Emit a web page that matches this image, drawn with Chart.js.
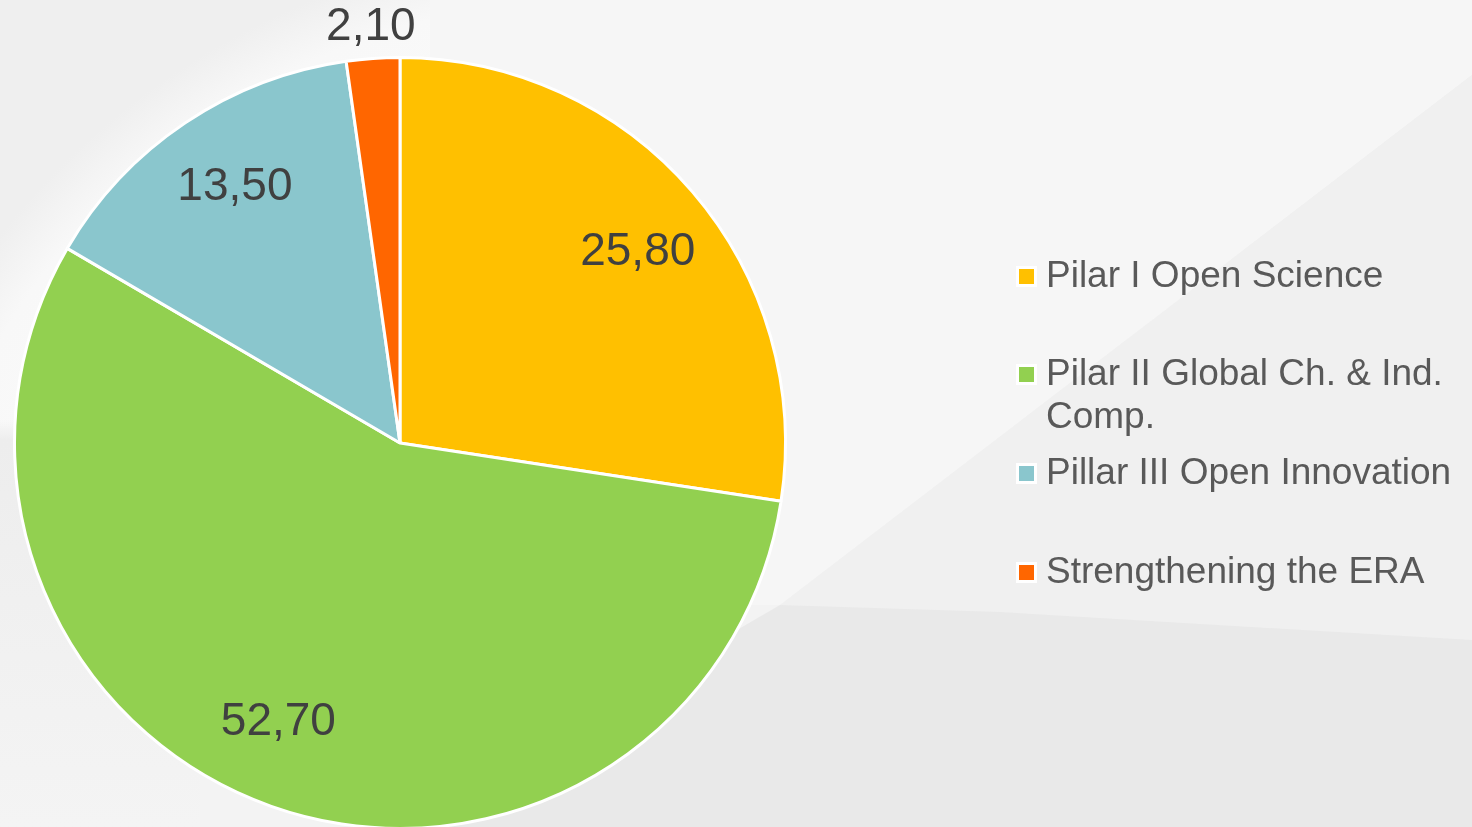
<!DOCTYPE html>
<html>
<head>
<meta charset="utf-8">
<script src="https://cdn.jsdelivr.net/npm/chart.js@4/dist/chart.umd.min.js"></script>
<style>
  html, body { margin: 0; padding: 0; width: 1472px; height: 827px; overflow: hidden; }
  body { position: relative; background: #f3f3f3; font-family: "Liberation Sans", Arial, sans-serif; }
  .bg { position: absolute; inset: 0; }
  #bg0 { background: radial-gradient(ellipse 760px 700px at 620px 640px, rgba(250,250,250,0) 0, rgba(250,250,250,0) 600px, #f9f9f9 640px, #f8f8f8 700px, #efefef 760px); }
  #bg1 { background: #f6f6f6; clip-path: polygon(430px 0, 1472px 0, 1472px 75px, 780px 605px, 430px 605px); }
  #bg2 { background: #f0f0f0; clip-path: polygon(1472px 75px, 1472px 640px, 780px 605px); }
  #bg3 { background: #e9e9e9; clip-path: polygon(780px 605px, 1000px 612px, 1472px 640px, 1472px 827px, 400px 827px); }
  #bg4 { background: linear-gradient(180deg, rgba(236,236,236,0) 0, rgba(236,236,236,0) 420px, #ededed 440px, #f0f0f0 600px, #f4f4f4 827px); clip-path: polygon(0 0, 200px 0, 200px 827px, 0 827px); }
  #chartWrap { position: absolute; left: 0; top: 0; width: 1472px; height: 827px; overflow: hidden; }
  #legend { position: absolute; left: 1016px; top: 0; width: 456px; }
  .item { position: absolute; left: 0; width: 456px; }
  .sw { position: absolute; left: 0; width: 15px; height: 15px; border: 3px solid #ffffff; }
  .txt { position: absolute; left: 30px; width: 422px; font-size: 37px; line-height: 43px; color: #595959; }
</style>
</head>
<body>
<div class="bg" id="bg0"></div>
<div class="bg" id="bg1"></div>
<div class="bg" id="bg2"></div>
<div class="bg" id="bg3"></div>
<div class="bg" id="bg4"></div>
<div id="chartWrap"><canvas id="c" width="1472" height="830"></canvas></div>
<div id="legend"></div>
<script>
const categories = [
  "Pilar I Open Science",
  "Pilar II Global Ch. & Ind. Comp.",
  "Pillar III Open Innovation",
  "Strengthening the ERA"
];
const values = [25.80, 52.70, 13.50, 2.10];
const colors = ["#FFC000", "#92D050", "#8AC6CD", "#FF6600"];

const valueLabels = {
  id: 'valueLabels',
  afterDatasetsDraw(chart) {
    const ctx = chart.ctx;
    const meta = chart.getDatasetMeta(0);
    const data = chart.data.datasets[0].data;
    const total = data.reduce((a, b) => a + b, 0);
    ctx.save();
    ctx.font = '46px "Liberation Sans", Arial, sans-serif';
    ctx.fillStyle = '#404040';
    ctx.textAlign = 'center';
    ctx.textBaseline = 'middle';
    meta.data.forEach((arc, i) => {
      const p = arc.getProps(['x', 'y', 'startAngle', 'endAngle', 'outerRadius'], true);
      const share = data[i] / total;
      let ang, r;
      if (share < 0.05) {
        ang = (p.startAngle + p.endAngle) / 2;
        r = p.outerRadius + 31;
      } else {
        ang = p.startAngle + (p.endAngle - p.startAngle) * 0.52;
        r = p.outerRadius * 0.79;
      }
      const txt = data[i].toFixed(2).replace('.', ',');
      ctx.fillText(txt, p.x + Math.cos(ang) * r, p.y + Math.sin(ang) * r);
    });
    ctx.restore();
  }
};

const chart = new Chart(document.getElementById('c'), {
  type: 'pie',
  data: {
    labels: categories,
    datasets: [{
      data: values,
      backgroundColor: colors,
      borderColor: '#ffffff',
      borderWidth: 3,
      hoverOffset: 0,
      hoverBorderWidth: 3
    }]
  },
  options: {
    responsive: false,
    animation: false,
    layout: { padding: { left: 13, right: 685, top: 56, bottom: 0 } },
    plugins: {
      legend: { display: false },
      tooltip: { enabled: false }
    }
  },
  plugins: [valueLabels]
});

// HTML legend built from the same arrays
const legend = document.getElementById('legend');
const pitch = 98.7;
const firstTop = 252.7;
categories.forEach((name, i) => {
  const item = document.createElement('div');
  item.className = 'item';
  item.style.top = (firstTop + i * pitch) + 'px';
  const sw = document.createElement('div');
  sw.className = 'sw';
  sw.style.background = colors[i];
  sw.style.top = '13px';
  const t = document.createElement('div');
  t.className = 'txt';
  t.style.top = '0px';
  t.textContent = name;
  item.appendChild(sw);
  item.appendChild(t);
  legend.appendChild(item);
});
</script>
</body>
</html>
